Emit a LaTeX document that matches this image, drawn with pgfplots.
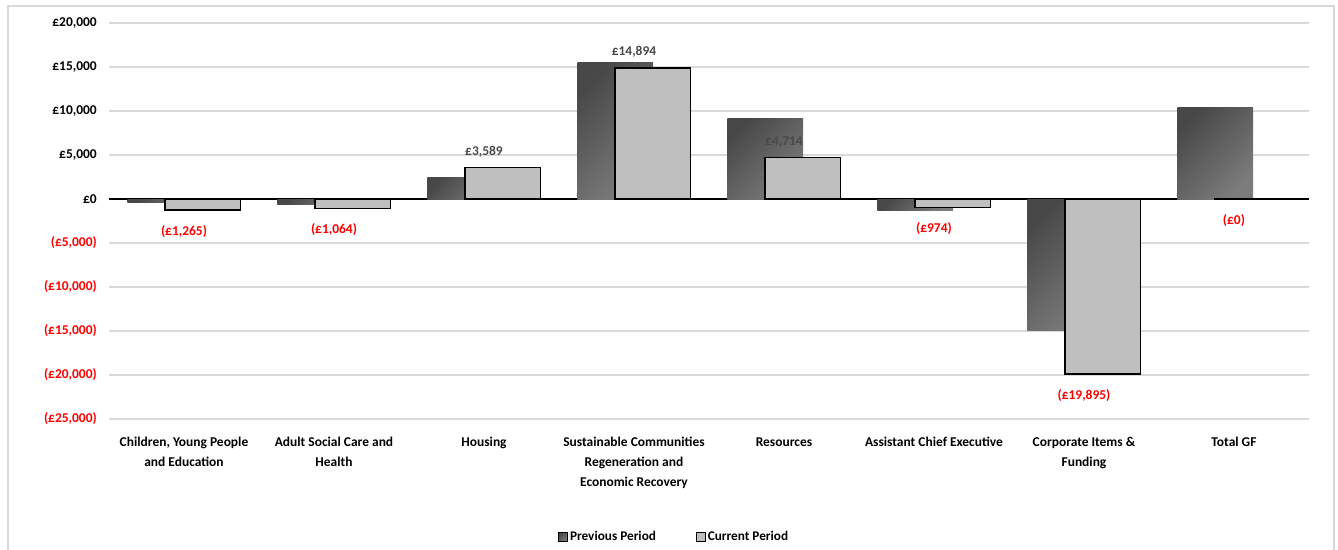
\documentclass[border=0pt]{standalone}
\usepackage{pgfplots}
\pgfplotsset{compat=1.18}
\usepackage{fontspec}
\setmainfont{Carlito}
\definecolor{gridc}{HTML}{D9D9D9}
\definecolor{curfill}{HTML}{BFBFBF}
\definecolor{prevdark}{HTML}{484848}
\definecolor{prevlight}{HTML}{7C7C7C}
\definecolor{lblgray}{HTML}{4A4A4A}
\definecolor{framec}{HTML}{D9D9D9}
\begin{document}
\begin{tikzpicture}
\path[use as bounding box] (-109bp,-131bp) rectangle (1229bp,419bp);
\begin{axis}[
  at={(0,0)}, anchor=south west,
  scale only axis, width=1200bp, height=396bp,
  xmin=-0.5, xmax=7.5, ymin=-25000, ymax=20000,
  axis line style={draw=none},
  major tick length=0pt,
  scaled y ticks=false,
  ymajorgrids, grid style={gridc, line width=1.5bp},
  ytick={-25000,-20000,-15000,-10000,-5000,0,5000,10000,15000,20000},
  yticklabels={{\textcolor{red}{(£25,000)}},{\textcolor{red}{(£20,000)}},{\textcolor{red}{(£15,000)}},{\textcolor{red}{(£10,000)}},{\textcolor{red}{(£5,000)}},£0,{£5,000},{£10,000},{£15,000},{£20,000}},
  yticklabel style={font=\fontsize{13.5}{16}\selectfont\bfseries, inner xsep=0pt, xshift=-12bp},
  xtick={0,1,2,3,4,5,6,7},
  xticklabels={{Children, Young People\\and Education},{Adult Social Care and\\Health},Housing,{Sustainable Communities\\Regeneration and\\Economic Recovery},Resources,Assistant Chief Executive,{Corporate Items \&\\Funding},Total GF},
  xticklabel style={font=\fontsize{13.5}{20}\selectfont\bfseries, align=center, anchor=north, yshift=-15bp},
  extra y ticks={0}, extra y tick labels={},
  extra y tick style={grid style={black, line width=1.1bp}},
  legend style={at={(0.471,-0.298)}, anchor=center, draw=none, legend columns=2,
    font=\fontsize{13.3}{15}\selectfont\bfseries, /tikz/every even column/.append style={column sep=38bp}},
  legend image code/.code={\draw[#1, line width=0.8bp] (0bp,-4.5bp) rectangle (9bp,4.5bp);},
  prevbar/.style={ybar, bar width=0.505, bar shift=-0.125, draw=none, top color=prevdark, bottom color=prevlight, shading angle=45},
  curbar/.style={ybar, bar width=0.505, bar shift=0.125},
  lbl/.style 2 args={curbar, draw=none, fill=none, forget plot, nodes near coords, point meta=explicit symbolic,
    nodes near coords style={font=\fontsize{13.5}{16}\selectfont\bfseries, inner ysep=8bp, anchor=#1, yshift=#2}},
]
\addplot[prevbar] coordinates {(0,-450)};
\addlegendentry{Previous Period}
\addplot[prevbar, forget plot] coordinates {(1,-600)};
\addplot[prevbar, forget plot] coordinates {(2,2420)};
\addplot[prevbar, forget plot] coordinates {(3,15530)};
\addplot[prevbar, forget plot] coordinates {(4,9170)};
\addplot[prevbar, forget plot] coordinates {(5,-1300)};
\addplot[prevbar, forget plot] coordinates {(6,-14900)};
\addplot[prevbar, forget plot] coordinates {(7,10420)};
\addplot[curbar, draw=black, line width=1.3bp, fill=curfill]
  coordinates {(0,-1265) (1,-1064) (2,3589) (3,14894) (4,4714) (5,-974) (6,-19895) (7,-30)};
\addlegendentry{Current Period}
\addplot[lbl={south}{2bp}] coordinates {
  (2,3589) [{\textcolor{lblgray}{£3,589}}]
  (3,14894) [{\textcolor{lblgray}{£14,894}}]
  (4,4714) [{\textcolor{lblgray}{£4,714}}]};
\addplot[lbl={north}{-7bp}] coordinates {
  (0,-1265) [{\textcolor{red}{(£1,265)}}]
  (1,-1064) [{\textcolor{red}{(£1,064)}}]
  (5,-974) [{\textcolor{red}{(£974)}}]
  (6,-19895) [{\textcolor{red}{(£19,895)}}]
  (7,-30) [{\textcolor{red}{(£0)}}]};
\end{axis}
\draw[framec, line width=1.2bp] (-101bp,-145bp) rectangle (1225bp,413bp);
\end{tikzpicture}
\end{document}
